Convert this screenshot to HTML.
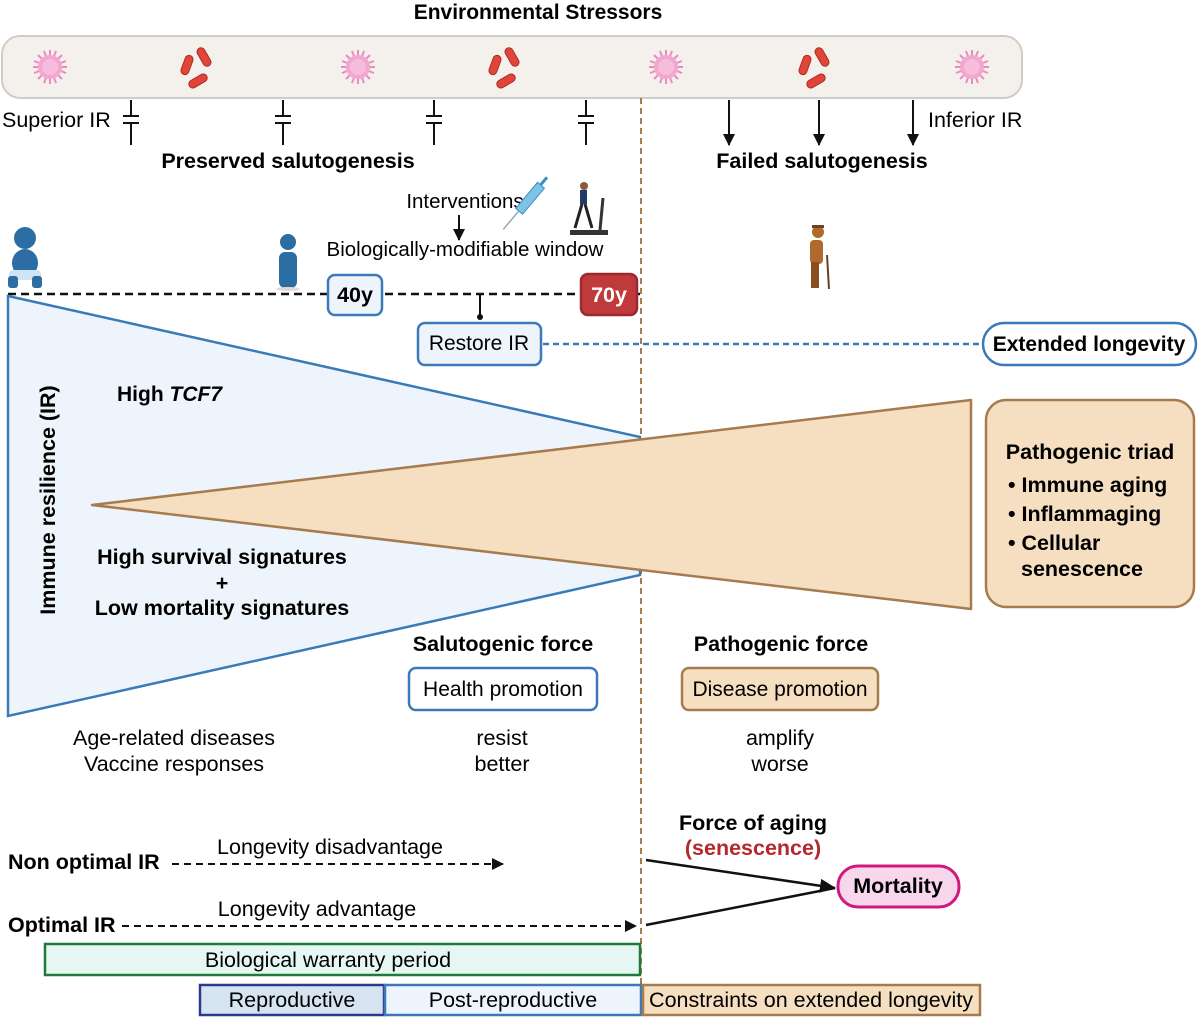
<!DOCTYPE html>
<html><head><meta charset="utf-8"><style>
html,body{margin:0;padding:0;background:#fff;}
svg{display:block;font-family:"Liberation Sans",Arial,sans-serif;}
</style></head><body>
<svg width="1200" height="1017" viewBox="0 0 1200 1017" xmlns="http://www.w3.org/2000/svg">
<defs>
<marker id="ah" markerWidth="12" markerHeight="12" refX="11" refY="6" orient="auto" markerUnits="userSpaceOnUse"><path d="M0,0 L12,6 L0,12 z" fill="#111"/></marker>
<marker id="ah2" markerWidth="16" markerHeight="14" refX="15" refY="7" orient="auto" markerUnits="userSpaceOnUse"><path d="M0,0 L16,7 L0,14 z" fill="#111"/></marker>
<g id="virus"><g stroke="#e88cc0" stroke-width="2">
<line x1="-17" y1="0" x2="17" y2="0"/><line x1="0" y1="-17" x2="0" y2="17"/><line x1="-12" y1="-12" x2="12" y2="12"/><line x1="-12" y1="12" x2="12" y2="-12"/>
<line x1="-16" y1="-6" x2="16" y2="6"/><line x1="-16" y1="6" x2="16" y2="-6"/><line x1="-6" y1="-16" x2="6" y2="16"/><line x1="6" y1="-16" x2="-6" y2="16"/></g>
<circle r="12" fill="#f3a6cf"/><circle r="8" fill="#f7bddc"/></g>
<g id="bact"><g fill="#e0453a" stroke="#b02a22" stroke-width="1">
<rect x="-17" y="-12" width="8" height="20" rx="4" transform="rotate(20 -13 -2)"/>
<rect x="0" y="-20" width="8" height="20" rx="4" transform="rotate(-30 4 -10)"/>
<rect x="-6" y="4" width="8" height="20" rx="4" transform="rotate(60 -2 14)"/></g></g>
</defs>

<text x="538" y="19" text-anchor="middle" font-size="21" font-weight="bold">Environmental Stressors</text>
<rect x="2" y="36" width="1020" height="62" rx="18" fill="#f4f1ec" stroke="#d0cdc8" stroke-width="2"/>
<use href="#virus" x="50" y="67"/><use href="#virus" x="358" y="67"/><use href="#virus" x="666" y="67"/><use href="#virus" x="972" y="67"/>
<use href="#bact" x="200" y="67"/><use href="#bact" x="508" y="67"/><use href="#bact" x="818" y="67"/>

<line x1="641" y1="98" x2="641" y2="1017" stroke="#a57b4f" stroke-width="2" stroke-dasharray="6,4"/>

<g font-size="21.5">
<text x="2" y="127">Superior IR</text>
<text x="928" y="127">Inferior IR</text>
</g>
<g stroke="#111" stroke-width="2">
<g id="inh"><line x1="131" y1="100" x2="131" y2="116"/><line x1="123" y1="116" x2="139" y2="116"/><line x1="123" y1="123" x2="139" y2="123"/><line x1="131" y1="123" x2="131" y2="145"/></g>
<use href="#inh" x="152"/><use href="#inh" x="303"/><use href="#inh" x="455"/>
<line x1="729" y1="100" x2="729" y2="145" marker-end="url(#ah)"/>
<line x1="819" y1="100" x2="819" y2="145" marker-end="url(#ah)"/>
<line x1="913" y1="100" x2="913" y2="145" marker-end="url(#ah)"/>
</g>
<text x="288" y="168" text-anchor="middle" font-size="21.5" font-weight="bold">Preserved salutogenesis</text>
<text x="822" y="168" text-anchor="middle" font-size="21.5" font-weight="bold">Failed salutogenesis</text>

<text x="465" y="208" text-anchor="middle" font-size="20.5">Interventions</text>
<line x1="459" y1="215" x2="459" y2="240" stroke="#111" stroke-width="2" marker-end="url(#ah)"/>
<text x="465" y="256" text-anchor="middle" font-size="20.5">Biologically-modifiable window</text>
<g transform="rotate(-50 530 210)"><rect x="522" y="198" width="34" height="9" fill="#7ec3e6" stroke="#3a8fc0"/><line x1="498" y1="202" x2="522" y2="202" stroke="#9ab" stroke-width="1.5"/><line x1="556" y1="202" x2="566" y2="202" stroke="#3a8fc0" stroke-width="3"/></g>
<g><circle cx="584" cy="186" r="4" fill="#8a5a3a"/><rect x="580" y="190" width="7" height="14" fill="#1f3b66"/><line x1="582" y1="204" x2="575" y2="228" stroke="#222" stroke-width="3"/><line x1="585" y1="204" x2="592" y2="228" stroke="#222" stroke-width="3"/><rect x="570" y="230" width="38" height="5" fill="#333"/><line x1="600" y1="230" x2="603" y2="198" stroke="#333" stroke-width="3"/></g>

<g fill="#2c6ea3">
<circle cx="25" cy="238" r="11"/><ellipse cx="25" cy="263" rx="13" ry="14"/><rect x="9" y="270" width="32" height="10" rx="4" fill="#cfe4f5"/><rect x="8" y="276" width="10" height="12" rx="3"/><rect x="32" y="276" width="10" height="12" rx="3"/>
<circle cx="288" cy="242" r="8"/><rect x="279" y="252" width="18" height="36" rx="6"/><ellipse cx="288" cy="289" rx="12" ry="2" fill="#e5d9d4"/>
</g>
<g fill="#b06a2c"><circle cx="818" cy="232" r="6"/><rect x="812" y="225" width="12" height="3" fill="#6b4226"/><rect x="810" y="240" width="13" height="24" rx="4"/><rect x="811" y="262" width="8" height="26" fill="#8a4f1f"/><line x1="827" y1="255" x2="829" y2="289" stroke="#6b4226" stroke-width="2"/></g>

<line x1="8" y1="294" x2="640" y2="294" stroke="#111" stroke-width="2.5" stroke-dasharray="8,5"/>
<rect x="328" y="275" width="54" height="40" rx="7" fill="#eef4fb" stroke="#3a7ab8" stroke-width="2.5"/>
<text x="355" y="302" text-anchor="middle" font-size="21.5" font-weight="bold">40y</text>
<rect x="581" y="274" width="56" height="41" rx="7" fill="#c0393b" stroke="#9b2a2c" stroke-width="2.5"/>
<text x="609" y="302" text-anchor="middle" font-size="21.5" font-weight="bold" fill="#fff">70y</text>
<line x1="480" y1="294" x2="480" y2="317" stroke="#111" stroke-width="2"/><circle cx="480" cy="317" r="3" fill="#111"/>
<rect x="418" y="323" width="123" height="42" rx="7" fill="#eef4fb" stroke="#3a7ab8" stroke-width="2.5"/>
<text x="479" y="350" text-anchor="middle" font-size="21">Restore IR</text>
<line x1="543" y1="344" x2="983" y2="344" stroke="#3a7ab8" stroke-width="2.5" stroke-dasharray="6,4"/>
<rect x="983" y="323" width="213" height="42" rx="21" fill="#fff" stroke="#3a7ab8" stroke-width="2.5"/>
<text x="1089" y="351" text-anchor="middle" font-size="21" font-weight="bold">Extended longevity</text>

<polygon points="8,296 640,437 640,575 8,716" fill="#eef4fb" stroke="#3a7ab8" stroke-width="2.5"/>
<polygon points="92,505 971,400 971,609" fill="#f5dfc0" stroke="#a57b4f" stroke-width="2.5" stroke-linejoin="round"/>
<text transform="translate(55,500) rotate(-90)" text-anchor="middle" font-size="21.5" font-weight="bold">Immune resilience (IR)</text>
<text x="117" y="401" font-size="21" font-weight="bold">High <tspan font-style="italic">TCF7</tspan></text>
<g font-size="21.5" font-weight="bold" text-anchor="middle">
<text x="222" y="564">High survival signatures</text>
<text x="222" y="590">+</text>
<text x="222" y="615">Low mortality signatures</text>
</g>
<rect x="986" y="400" width="208" height="207" rx="20" fill="#f5dfc0" stroke="#a57b4f" stroke-width="2.5"/>
<g font-size="21.5" font-weight="bold">
<text x="1090" y="459" text-anchor="middle">Pathogenic triad</text>
<text x="1008" y="492">• Immune aging</text>
<text x="1008" y="521">• Inflammaging</text>
<text x="1008" y="550">• Cellular</text>
<text x="1021" y="576">senescence</text>
</g>

<g font-size="21.5" font-weight="bold" text-anchor="middle">
<text x="503" y="651">Salutogenic force</text>
<text x="781" y="651">Pathogenic force</text>
</g>
<rect x="409" y="668" width="188" height="42" rx="7" fill="#fff" stroke="#3a7ab8" stroke-width="2.5"/>
<text x="503" y="696" text-anchor="middle" font-size="21">Health promotion</text>
<rect x="682" y="668" width="196" height="42" rx="7" fill="#f5dfc0" stroke="#a57b4f" stroke-width="2.5"/>
<text x="780" y="696" text-anchor="middle" font-size="21">Disease promotion</text>

<g font-size="21.5" text-anchor="middle">
<text x="174" y="745">Age-related diseases</text>
<text x="174" y="771">Vaccine responses</text>
<text x="502" y="745">resist</text>
<text x="502" y="771">better</text>
<text x="780" y="745">amplify</text>
<text x="780" y="771">worse</text>
</g>

<text x="753" y="830" text-anchor="middle" font-size="21.5" font-weight="bold">Force of aging</text>
<text x="753" y="855" text-anchor="middle" font-size="21.5" font-weight="bold" fill="#b5282e">(senescence)</text>
<line x1="646" y1="860" x2="835" y2="888" stroke="#111" stroke-width="2.5" marker-end="url(#ah2)"/>
<line x1="646" y1="925" x2="835" y2="888" stroke="#111" stroke-width="2.5"/>
<rect x="838" y="866" width="121" height="41" rx="20" fill="#f8d7ec" stroke="#d0197e" stroke-width="3"/>
<text x="898" y="893" text-anchor="middle" font-size="21.5" font-weight="bold">Mortality</text>

<text x="8" y="869" font-size="21.5" font-weight="bold">Non optimal IR</text>
<line x1="172" y1="864" x2="503" y2="864" stroke="#111" stroke-width="2" stroke-dasharray="7,5" marker-end="url(#ah)"/>
<text x="330" y="854" text-anchor="middle" font-size="21.5">Longevity disadvantage</text>
<text x="8" y="932" font-size="21.5" font-weight="bold">Optimal IR</text>
<line x1="122" y1="926" x2="636" y2="926" stroke="#111" stroke-width="2" stroke-dasharray="7,5" marker-end="url(#ah)"/>
<text x="317" y="916" text-anchor="middle" font-size="21.5">Longevity advantage</text>

<rect x="45" y="944" width="595" height="31" fill="#e6f7f3" stroke="#1e7a3c" stroke-width="2.5"/>
<text x="328" y="967" text-anchor="middle" font-size="21.5">Biological warranty period</text>
<rect x="200" y="985" width="184" height="30" fill="#d6e4f2" stroke="#2a3a8c" stroke-width="2.5"/>
<text x="292" y="1007" text-anchor="middle" font-size="21.5">Reproductive</text>
<rect x="385" y="985" width="256" height="30" fill="#eef4fb" stroke="#3a7ab8" stroke-width="2.5"/>
<text x="513" y="1007" text-anchor="middle" font-size="21.5">Post-reproductive</text>
<rect x="643" y="985" width="337" height="30" fill="#f5dfc0" stroke="#a57b4f" stroke-width="2.5"/>
<text x="811" y="1007" text-anchor="middle" font-size="21.5">Constraints on extended longevity</text>
</svg>
</body></html>
